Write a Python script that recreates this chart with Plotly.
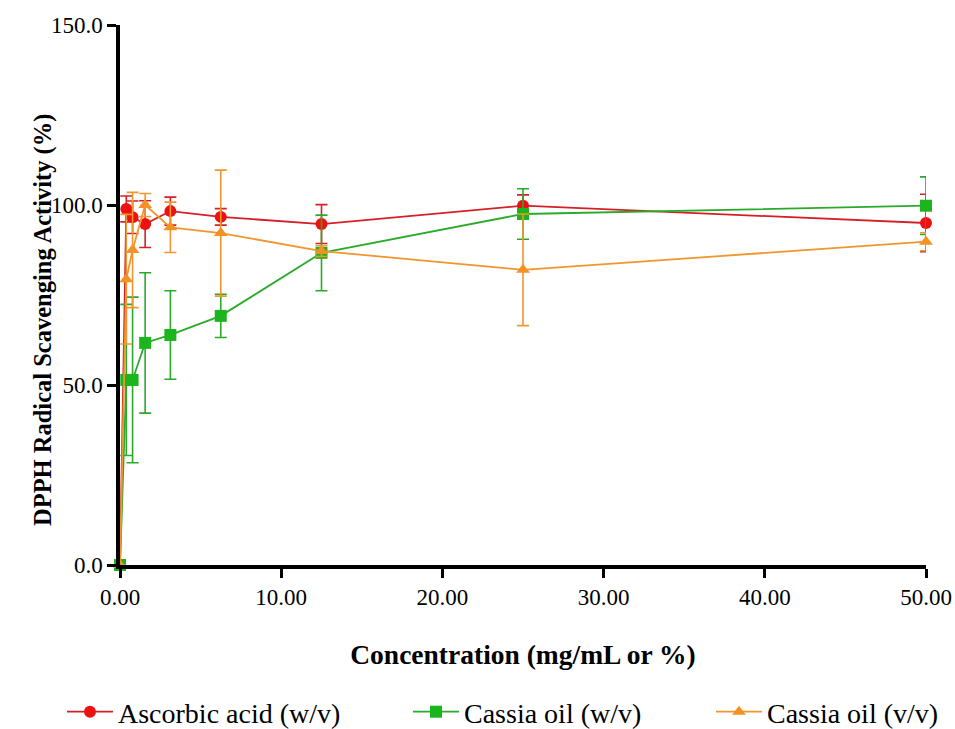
import plotly.graph_objects as go

conc = [0, 0.39, 0.78, 1.56, 3.125, 6.25, 12.5, 25, 50]

asc_mean = [0, 98.9, 96.6, 94.7, 98.3, 96.7, 94.7, 99.8, 95.0]
asc_err = [0, 3.6, 4.5, 6.5, 3.9, 2.3, 5.4, 3.0, 8.0]

cw_mean = [0, 51.4, 51.4, 61.7, 63.9, 69.2, 86.7, 97.5, 99.8]
cw_err = [0, 21.0, 23.0, 19.5, 12.3, 6.0, 10.5, 7.0, 8.0]

cv_mean = [0, 79.4, 87.5, 100.0, 93.8, 92.2, 87.2, 82.0, 89.8]
cv_err = [0, 18.0, 16.0, 3.2, 7.0, 17.5, 1.5, 15.5, 2.5]

names = ["Ascorbic acid (w/v)", "Cassia oil (w/v)", "Cassia oil (v/v)"]
colors = ["#EC1212", "#1DB51D", "#F39223"]
line_colors = ["#D42027", "#2AAA2A", "#F0962E"]
symbols = ["circle", "square", "triangle-up"]
means = [asc_mean, cw_mean, cv_mean]
errs = [asc_err, cw_err, cv_err]
legend_ids = ["legend", "legend2", "legend3"]
legend_x_px = [62, 408, 711]

font_family = "Liberation Serif, Times New Roman, serif"

fig = go.Figure()
for name, col, lcol, sym, m, e, lg in zip(names, colors, line_colors, symbols, means, errs, legend_ids):
    fig.add_trace(go.Scatter(
        x=conc, y=m, name=name, mode="lines+markers",
        line=dict(color=lcol, width=1.8),
        marker=dict(color=col, symbol=sym, size=12),
        error_y=dict(type="data", array=e, visible=True, color=lcol, thickness=1.6, width=6),
        cliponaxis=False, legend=lg,
    ))

legend_common = dict(orientation="h", xref="container", yref="container",
                     y=1 - 712 / 729, yanchor="middle", xanchor="left",
                     font=dict(size=28, family=font_family), itemwidth=46,
                     bgcolor="rgba(0,0,0,0)")

fig.update_layout(
    width=955, height=729,
    margin=dict(l=120, r=29, t=25, b=164),
    paper_bgcolor="white", plot_bgcolor="white",
    font=dict(family=font_family, color="black"),
    showlegend=True,
    legend=dict(x=legend_x_px[0] / 955, **legend_common),
    legend2=dict(x=legend_x_px[1] / 955, **legend_common),
    legend3=dict(x=legend_x_px[2] / 955, **legend_common),
    xaxis=dict(
        range=[0, 50], tickvals=[0, 10, 20, 30, 40, 50],
        ticktext=["0.00", "10.00", "20.00", "30.00", "40.00", "50.00"],
        showline=True, linecolor="black", linewidth=3.5,
        ticks="outside", ticklen=9, tickwidth=3, tickcolor="black",
        showgrid=False, zeroline=False, automargin=False,
        tickfont=dict(size=23, family=font_family),
        title=dict(text="<b>Concentration (mg/mL or %)</b>", font=dict(size=27.5, family=font_family), standoff=36),
    ),
    yaxis=dict(
        range=[0, 150], tickvals=[0, 50, 100, 150],
        ticktext=["0.0", "50.0", "100.0", "150.0"],
        showline=True, linecolor="black", linewidth=3.5,
        ticks="outside", ticklen=9, tickwidth=3, tickcolor="black",
        showgrid=False, zeroline=False, automargin=False,
        tickfont=dict(size=23, family=font_family),
    ),
    annotations=[dict(
        text="<b>DPPH Radical Scavenging Activity (%)</b>",
        textangle=-90, xref="paper", yref="paper",
        x=(43 - 120) / 806, y=(565 - 320) / 540,
        xanchor="center", yanchor="middle", showarrow=False,
        font=dict(size=24.5, family=font_family, color="black"),
    )],
)

fig.write_html("out.html")
